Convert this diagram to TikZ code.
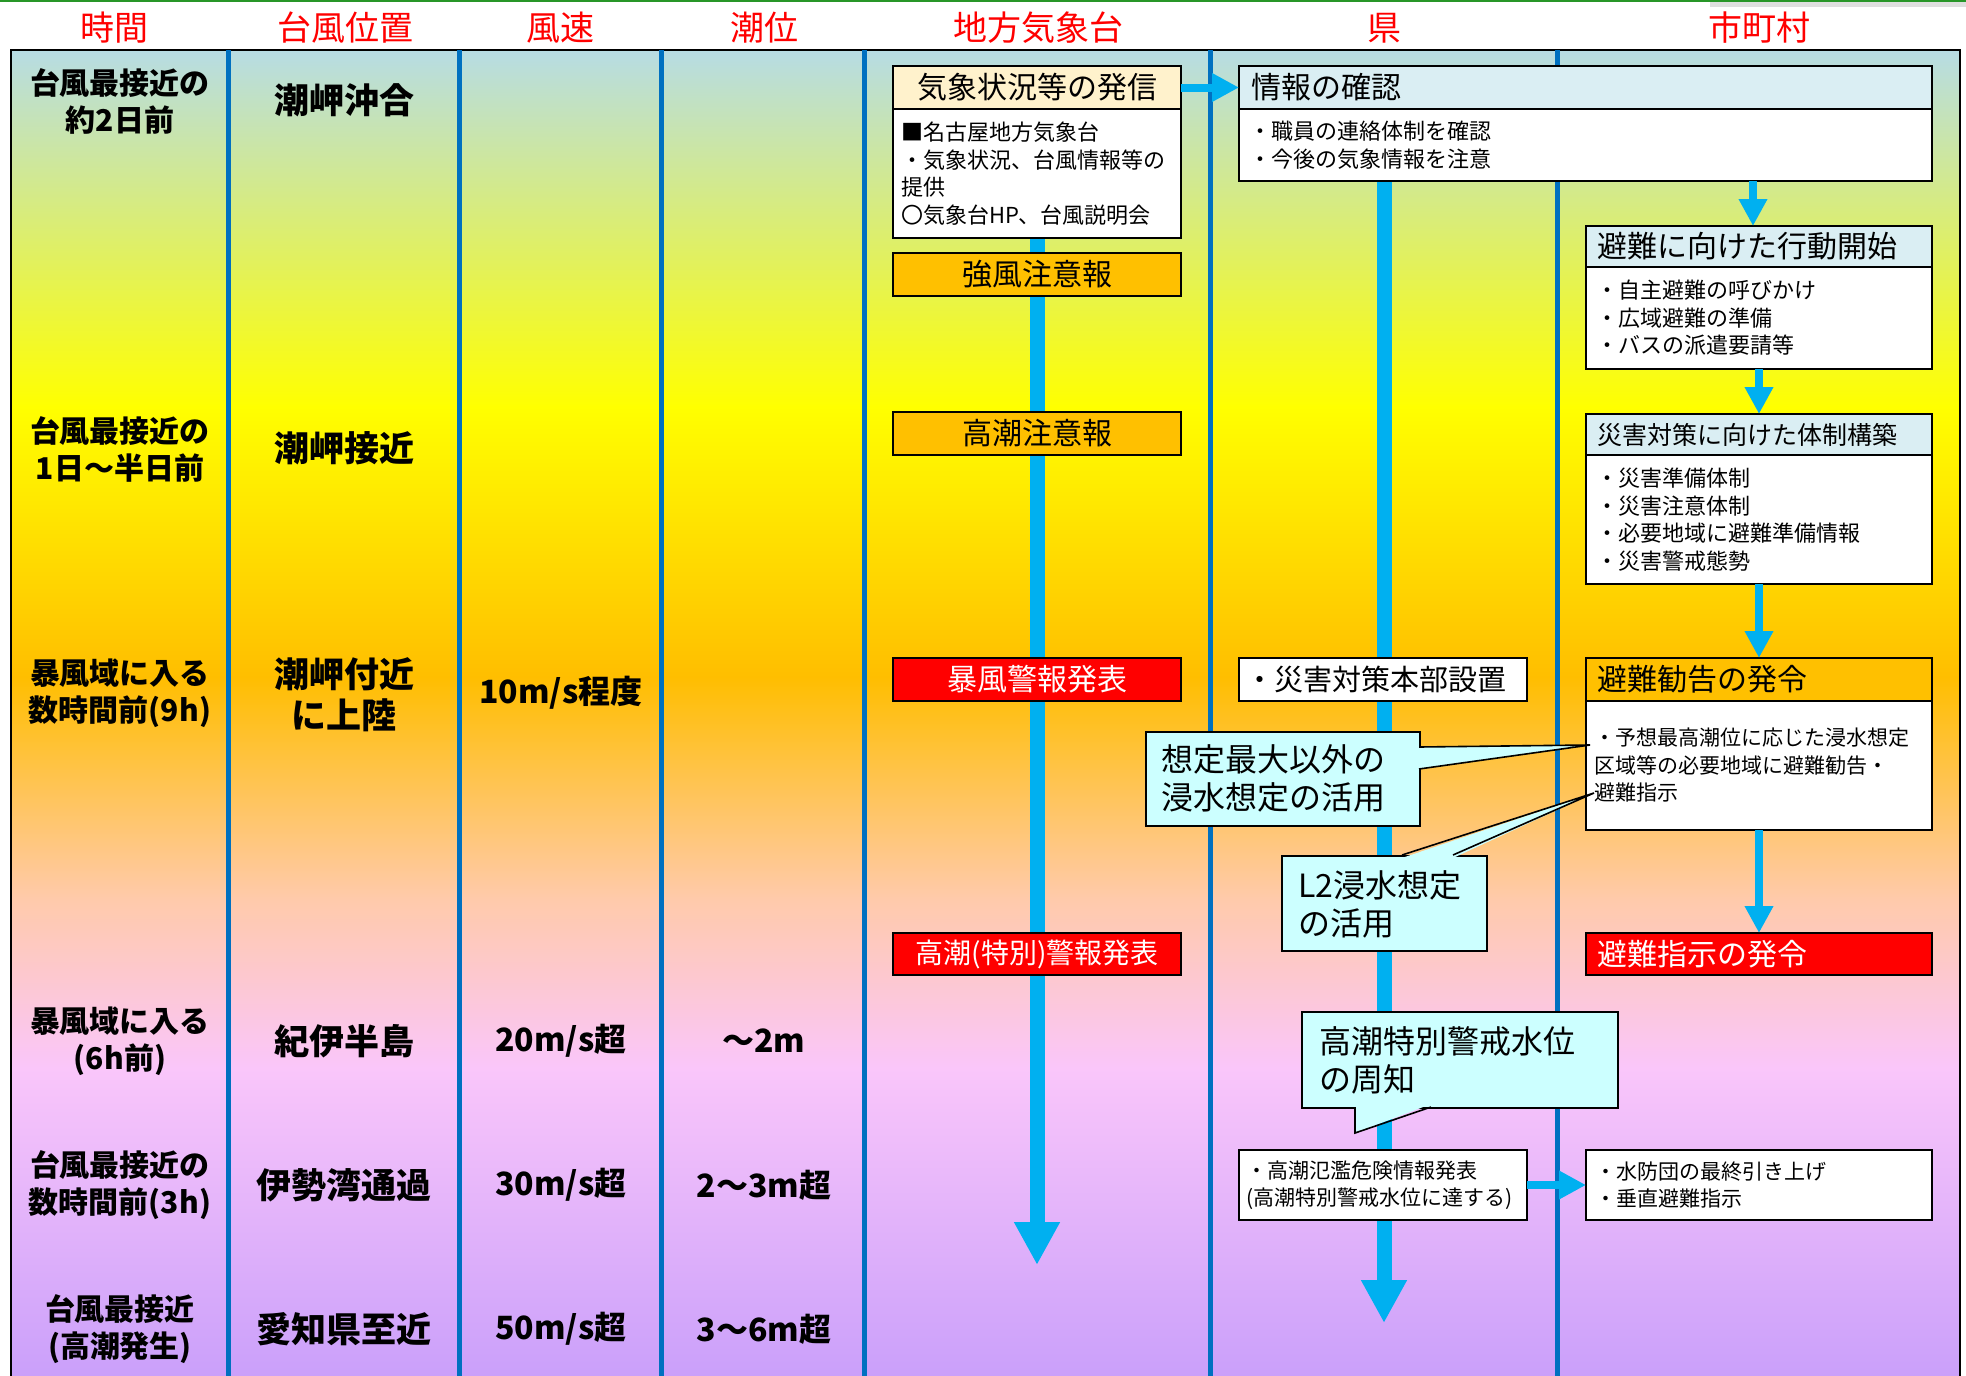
\documentclass[tikz,border=0pt]{standalone}
\usepackage{fontspec}
\setmainfont{Noto Sans CJK JP}
\usetikzlibrary{arrows.meta,calc}
\definecolor{gBlue}{RGB}{183,220,228}
\definecolor{gYel}{RGB}{255,255,0}
\definecolor{gOra}{RGB}{255,190,0}
\definecolor{gPeach}{RGB}{255,202,170}
\definecolor{gPink}{RGB}{250,198,250}
\definecolor{gPur}{RGB}{200,158,250}
\definecolor{colline}{RGB}{0,112,192}
\definecolor{arrblue}{RGB}{0,176,240}
\definecolor{cream}{RGB}{255,242,204}
\definecolor{hdrblue}{RGB}{218,238,243}
\definecolor{orangebox}{RGB}{255,192,0}
\definecolor{calloutfill}{RGB}{204,255,255}
\definecolor{topgreen}{RGB}{40,150,40}
\pgfdeclarelayer{bg}
\pgfdeclarelayer{arr}
\pgfsetlayers{bg,arr,main}
\tikzset{
  colhdr/.style={text=red, font=\fontsize{34}{38}\selectfont, inner sep=0pt},
  rowlbl/.style={font=\bfseries\fontsize{30}{37}\selectfont, align=center, inner sep=0pt},
  poslbl/.style={font=\bfseries\fontsize{35}{41}\selectfont, align=center, inner sep=0pt},
  vallbl/.style={font=\bfseries\fontsize{32}{38}\selectfont, inner sep=0pt},
  bx/.style={draw=black, line width=1.6pt, inner ysep=0pt, anchor=north west, outer sep=0pt},
  bigtxt/.style={font=\fontsize{30}{34}\selectfont},
  smalltxt/.style={font=\fontsize{22}{27.5}\selectfont},
  smtxt/.style={font=\fontsize{21}{27.5}\selectfont},
  bigarrow/.style={draw=arrblue, line width=15pt, -{Triangle[width=43pt,length=43pt]}},
  smallarrow/.style={draw=arrblue, line width=8pt, -{Triangle[width=27pt,length=27pt]}},
  callbox/.style={draw=black, line width=1.6pt, fill=calloutfill, anchor=north west, inner sep=0pt},
  calltxt/.style={font=\fontsize{32}{38}\selectfont, align=left, anchor=west, inner sep=0pt},
  ptrline/.style={draw=black, line width=1.6pt, line join=miter},
}
\begin{document}
\begin{tikzpicture}[x=1pt,y=-1pt]
\useasboundingbox (0,0) rectangle (1966,1376);
% ---------- background ----------
\begin{pgfonlayer}{bg}
\fill[white] (0,0) rectangle (1966,1376);
\fill[topgreen] (0,0) rectangle (1966,2);
\fill[gray!25] (1710,2) rectangle (1966,7);
\shade[top color=gBlue, bottom color=gYel] (11,50) rectangle (1960,407);
\shade[top color=gYel, bottom color=gOra] (11,406) rectangle (1960,678);
\shade[top color=gOra, bottom color=gPeach] (11,677) rectangle (1960,898);
\shade[top color=gPeach, bottom color=gPink] (11,897) rectangle (1960,1068);
\shade[top color=gPink, bottom color=gPur] (11,1067) rectangle (1960,1390);
\draw[line width=1.5pt] (11,50) rectangle (1960,1390);
\foreach \cx in {228,459,661,864,1210,1557}
  \draw[colline, line width=5pt] (\cx,50) -- (\cx,1390);
\end{pgfonlayer}
% ---------- column headers ----------
\node[colhdr] (hJikan) at (114,28) {時間};
\node[colhdr] (hIchi) at (345,28) {台風位置};
\node[colhdr] (hFusoku) at (560,28) {風速};
\node[colhdr] (hChoi) at (764,28) {潮位};
\node[colhdr] (hKisho) at (1038,28) {地方気象台};
\node[colhdr] (hKen) at (1384,28) {県};
\node[colhdr] (hShi) at (1759,28) {市町村};
% ---------- row labels ----------
\node[rowlbl] (r1) at (120,101) {台風最接近の\\約2日前};
\node[rowlbl] (r2) at (120,449) {台風最接近の\\1日～半日前};
\node[rowlbl] (r3) at (120,693) {暴風域に入る\\数時間前(9h)};
\node[rowlbl] (r4) at (120,1041) {暴風域に入る\\(6h前)};
\node[rowlbl] (r5) at (120,1185) {台風最接近の\\数時間前(3h)};
\node[rowlbl] (r6) at (120,1329) {台風最接近\\(高潮発生)};
\node[poslbl] (p1) at (344,100) {潮岬沖合};
\node[poslbl] (p2) at (344,448) {潮岬接近};
\node[poslbl] (p3) at (344,695) {潮岬付近\\に上陸};
\node[poslbl] (p4) at (344,1041) {紀伊半島};
\node[poslbl] (p5) at (344,1185) {伊勢湾通過};
\node[poslbl] (p6) at (344,1329) {愛知県至近};
\node[vallbl] (w3) at (561,693) {10m/s程度};
\node[vallbl] (w4) at (561,1041) {20m/s超};
\node[vallbl] (w5) at (561,1185) {30m/s超};
\node[vallbl] (w6) at (561,1329) {50m/s超};
\node[vallbl] (t4) at (764,1041) {～2m};
\node[vallbl] (t5) at (764,1185) {2～3m超};
\node[vallbl] (t6) at (764,1329) {3～6m超};
% ---------- 地方気象台 ----------
\node[bx, fill=cream, bigtxt, text width=268pt, inner xsep=10pt, minimum height=43pt, align=center] (kishoHdr) at (893,66) {気象状況等の発信};
\node[bx, fill=white, smalltxt, text width=272pt, inner xsep=8pt, minimum height=129pt, align=left] (kishoBody) at (kishoHdr.south west) {■名古屋地方気象台\\・気象状況、台風情報等の\\提供\\〇気象台HP、台風説明会};
\node[bx, fill=orangebox, bigtxt, text width=268pt, inner xsep=10pt, minimum height=43pt, align=center] (kyofu) at (893,253) {強風注意報};
\node[bx, fill=orangebox, bigtxt, text width=268pt, inner xsep=10pt, minimum height=43pt, align=center] (takaChui) at (893,412) {高潮注意報};
\node[bx, fill=red, text=white, bigtxt, text width=268pt, inner xsep=10pt, minimum height=43pt, align=center] (bofu) at (893,658) {暴風警報発表};
\node[bx, fill=red, text=white, font=\fontsize{28}{32}\selectfont, text width=268pt, inner xsep=10pt, minimum height=42pt, align=center] (takaKeiho) at (893,933) {高潮(特別)警報発表};
% ---------- 県 ----------
\node[bx, fill=hdrblue, bigtxt, text width=669pt, inner xsep=12pt, minimum height=43pt, align=left] (kakuninHdr) at (1239,66) {情報の確認};
\node[bx, fill=white, smalltxt, text width=673pt, inner xsep=10pt, minimum height=72pt, align=left] (kakuninBody) at (kakuninHdr.south west) {・職員の連絡体制を確認\\・今後の気象情報を注意};
\node[bx, fill=white, font=\fontsize{29}{33}\selectfont, text width=276pt, inner xsep=6pt, minimum height=43pt, align=left] (honbu) at (1239,658) {・災害対策本部設置};
\node[bx, fill=white, smtxt, text width=274pt, inner xsep=7pt, minimum height=70pt, align=left] (hanran) at (1239,1150) {・高潮氾濫危険情報発表\\(高潮特別警戒水位に達する)};
% ---------- 市町村 ----------
\node[bx, fill=hdrblue, bigtxt, text width=324pt, inner xsep=11pt, minimum height=41pt, align=left] (hinanHdr) at (1586,226) {避難に向けた行動開始};
\node[bx, fill=white, smalltxt, text width=326pt, inner xsep=10pt, minimum height=102pt, align=left] (hinanBody) at (hinanHdr.south west) {・自主避難の呼びかけ\\・広域避難の準備\\・バスの派遣要請等};
\node[bx, fill=hdrblue, font=\fontsize{25}{30}\selectfont, text width=324pt, inner xsep=11pt, minimum height=41pt, align=left] (saigaiHdr) at (1586,414) {災害対策に向けた体制構築};
\node[bx, fill=white, smalltxt, text width=326pt, inner xsep=10pt, minimum height=129pt, align=left] (saigaiBody) at (saigaiHdr.south west) {・災害準備体制\\・災害注意体制\\・必要地域に避難準備情報\\・災害警戒態勢};
\node[bx, fill=orangebox, bigtxt, text width=324pt, inner xsep=11pt, minimum height=43pt, align=left] (kankokuHdr) at (1586,658) {避難勧告の発令};
\node[bx, fill=white, smtxt, text width=330pt, inner xsep=8pt, minimum height=129pt, align=left] (kankokuBody) at (kankokuHdr.south west) {・予想最高潮位に応じた浸水想定\\区域等の必要地域に避難勧告・\\避難指示};
\node[bx, fill=red, text=white, bigtxt, text width=324pt, inner xsep=11pt, minimum height=42pt, align=left] (shiji) at (1586,933) {避難指示の発令};
\node[bx, fill=white, smtxt, text width=328pt, inner xsep=9pt, minimum height=70pt, align=left] (suibou) at (1586,1150) {・水防団の最終引き上げ\\・垂直避難指示};
% ---------- big vertical arrows (behind boxes) ----------
\coordinate (tipA) at (1037,1265);
\coordinate (tipB) at (1384,1323);
\begin{pgfonlayer}{arr}
\draw[bigarrow] (kishoBody.south) -- (tipA);
\draw[bigarrow] (tipB |- kakuninBody.south) -- (tipB);
\end{pgfonlayer}
% ---------- small arrows ----------
\coordinate (hinanTop) at (1753,226);
\draw[smallarrow] (kishoHdr.east) -- (kakuninHdr.west);
\draw[smallarrow] (hinanTop |- kakuninBody.south) -- (hinanTop);
\draw[smallarrow] (hinanBody.south) -- (saigaiHdr.north);
\draw[smallarrow] (saigaiBody.south) -- (kankokuHdr.north);
\draw[smallarrow] (kankokuBody.south) -- (shiji.north);
\draw[smallarrow] (hanran.east) -- (suibou.west);
% ---------- callouts ----------
\node[callbox, minimum width=274pt, minimum height=94pt] (c1) at (1145,731) {};
\coordinate (c1tip) at (1590,745);
\fill[calloutfill] (1416,747) -- (c1tip) -- (1416,769) -- cycle;
\draw[ptrline] (1419,747) -- (c1tip) -- (1419,769);
\node[calltxt] (c1t) at (1161,778) {想定最大以外の\\浸水想定の活用};

\node[callbox, minimum width=205pt, minimum height=95pt] (c2) at (1281,855) {};
\coordinate (c2tip) at (1594,793);
\fill[calloutfill] (1402,858) -- (c2tip) -- (1453,858) -- cycle;
\draw[ptrline] (1402,855) -- (c2tip) -- (1453,855);
\node[calltxt] (c2t) at (1298,904) {L2浸水想定\\の活用};

\node[callbox, minimum width=316pt, minimum height=96pt] (c3) at (1301,1011) {};
\coordinate (c3tip) at (1355,1133);
\fill[calloutfill] (1355,1104) -- (c3tip) -- (1431,1104) -- cycle;
\draw[ptrline] (1355,1107) -- (c3tip) -- (1431,1107);
\node[calltxt] (c3t) at (1319,1060) {高潮特別警戒水位\\の周知};
\end{tikzpicture}
\end{document}
